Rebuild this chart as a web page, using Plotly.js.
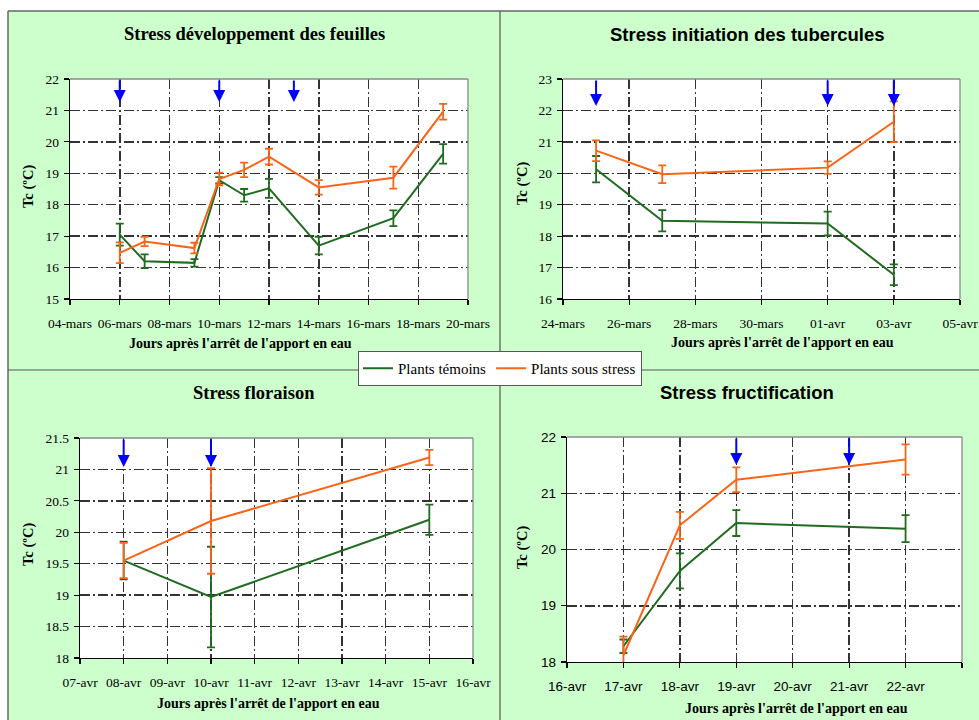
<!DOCTYPE html>
<html>
<head>
<meta charset="utf-8">
<script src="https://cdn.plot.ly/plotly-3.0.1.min.js"></script>
<style>html,body{margin:0;padding:0;background:#fff;}#chart{width:979px;height:720px;}</style>
</head>
<body>
<div id="chart"></div>
<script>
// ---------- DATA ----------
const seriesNames = ['Plants témoins', 'Plants sous stress'];

// Panel 1 : Stress développement des feuilles
const p1Dates = ['2008-03-06','2008-03-07','2008-03-09','2008-03-10','2008-03-11','2008-03-12','2008-03-14','2008-03-17','2008-03-19'];
const p1Temoin = [17.05, 16.2, 16.15, 18.78, 18.3, 18.52, 16.7, 17.57, 19.62];
const p1TemoinErr = [0.35, 0.22, 0.12, 0.1, 0.2, 0.3, 0.28, 0.25, 0.31];
const p1Stress = [16.47, 16.83, 16.62, 18.82, 19.11, 19.53, 18.55, 18.86, 20.96];
const p1StressErr = [0.33, 0.15, 0.17, 0.2, 0.23, 0.25, 0.23, 0.35, 0.25];
const p1Arrows = ['2008-03-06','2008-03-10','2008-03-13'];
const p1TickVals = ['2008-03-04','2008-03-06','2008-03-08','2008-03-10','2008-03-12','2008-03-14','2008-03-16','2008-03-18','2008-03-20'];
const p1TickText = ['04-mars','06-mars','08-mars','10-mars','12-mars','14-mars','16-mars','18-mars','20-mars'];

// Panel 2 : Stress initiation des tubercules
const p2Dates = ['2008-03-25','2008-03-27','2008-04-01','2008-04-03'];
const p2Temoin = [20.13, 18.49, 18.4, 16.77];
const p2TemoinErr = [0.42, 0.34, 0.38, 0.33];
const p2Stress = [20.72, 19.97, 20.18, 21.64];
const p2StressErr = [0.33, 0.28, 0.2, 0.65];
const p2Arrows = ['2008-03-25','2008-04-01','2008-04-03'];
const p2TickVals = ['2008-03-24','2008-03-26','2008-03-28','2008-03-30','2008-04-01','2008-04-03','2008-04-05'];
const p2TickText = ['24-mars','26-mars','28-mars','30-mars','01-avr','03-avr','05-avr'];

// Panel 3 : Stress floraison
const p3Dates = ['2008-04-08','2008-04-10','2008-04-15'];
const p3Temoin = [19.55, 18.97, 20.2];
const p3TemoinErr = [0.3, 0.8, 0.24];
const p3Stress = [19.55, 20.18, 21.19];
const p3StressErr = [0.28, 0.84, 0.12];
const p3Arrows = ['2008-04-08','2008-04-10'];
const p3TickVals = ['2008-04-07','2008-04-08','2008-04-09','2008-04-10','2008-04-11','2008-04-12','2008-04-13','2008-04-14','2008-04-15','2008-04-16'];
const p3TickText = ['07-avr','08-avr','09-avr','10-avr','11-avr','12-avr','13-avr','14-avr','15-avr','16-avr'];

// Panel 4 : Stress fructification
const p4Dates = ['2008-04-17','2008-04-18','2008-04-19','2008-04-22'];
const p4Temoin = [18.28, 19.62, 20.47, 20.37];
const p4TemoinErr = [0.12, 0.31, 0.23, 0.24];
const p4Stress = [18.12, 20.43, 21.24, 21.6];
const p4StressErr = [0.33, 0.24, 0.22, 0.27];
const p4Arrows = ['2008-04-19','2008-04-21'];
const p4TickVals = ['2008-04-16','2008-04-17','2008-04-18','2008-04-19','2008-04-20','2008-04-21','2008-04-22','2008-04-23'];
const p4TickText = ['16-avr','17-avr','18-avr','19-avr','20-avr','21-avr','22-avr','23-avr'];

const panelTitles = ['Stress développement des feuilles','Stress initiation des tubercules','Stress floraison','Stress fructification'];
const xTitle = "Jours après l'arrêt de l'apport en eau";
const yTitle = 'Tc (ºC)';

// ---------- STYLE / LAYOUT ----------
const W = 979, H = 720;
const SERIF = 'Liberation Serif, Times New Roman, serif';
const SANS = 'Liberation Sans, Arial, sans-serif';
const GREEN = '#1f6b1f', ORANGE = '#fa6419', BLUE = '#0000ff';
const px = x => x / W, py = y => 1 - y / H;

const panels = [
  {dates:p1Dates, t:p1Temoin, te:p1TemoinErr, s:p1Stress, se:p1StressErr, arrows:p1Arrows,
   tv:p1TickVals, tt:p1TickText, xr:['2008-03-04','2008-03-20'], yr:[15,22], dy:1,
   box:[70,79,468,299], titleFont:SERIF, tickFont:SERIF, title:[255,34], xt:[240,343], yt:[29,187], arrowLen:23},
  {dates:p2Dates, t:p2Temoin, te:p2TemoinErr, s:p2Stress, se:p2StressErr, arrows:p2Arrows,
   tv:p2TickVals, tt:p2TickText, xr:['2008-03-24','2008-04-05'], yr:[16,23], dy:1,
   box:[563,79,960,299], titleFont:SANS, tickFont:SERIF, title:[747,34], xt:[782,342], yt:[522,184], arrowLen:27},
  {dates:p3Dates, t:p3Temoin, te:p3TemoinErr, s:p3Stress, se:p3StressErr, arrows:p3Arrows,
   tv:p3TickVals, tt:p3TickText, xr:['2008-04-07','2008-04-16'], yr:[18,21.5], dy:0.5,
   box:[80,438,473,658], titleFont:SERIF, tickFont:SERIF, title:[254,393], xt:[268,703], yt:[28,545], arrowLen:29},
  {dates:p4Dates, t:p4Temoin, te:p4TemoinErr, s:p4Stress, se:p4StressErr, arrows:p4Arrows,
   tv:p4TickVals, tt:p4TickText, xr:['2008-04-16','2008-04-23'], yr:[18,22], dy:1,
   box:[567,437,962,662], titleFont:SANS, tickFont:SANS, title:[747,393], xt:[796,708], yt:[522,548], arrowLen:28}
];

const traces = [];
const layout = {
  width: W, height: H,
  margin: {l:0, r:0, t:0, b:0, pad:0},
  paper_bgcolor: '#ccffcc',
  plot_bgcolor: '#ffffff',
  showlegend: true,
  legend: {
    orientation: 'h', x: px(500), y: py(368.5), xanchor: 'center', yanchor: 'middle',
    bgcolor: '#ffffff', bordercolor: '#555555', borderwidth: 1,
    font: {family: SERIF, size: 15, color: '#000'},
    itemwidth: 30, tracegroupgap: 0
  },
  shapes: [
    {type:'rect', xref:'paper', yref:'paper', x0:-0.01, x1:1.01, y0:py(11), y1:1.01, fillcolor:'#ffffff', line:{width:0}, layer:'below'},
    {type:'rect', xref:'paper', yref:'paper', x0:-0.01, x1:px(8), y0:-0.01, y1:1.01, fillcolor:'#ffffff', line:{width:0}, layer:'below'},
    {type:'line', xref:'paper', yref:'paper', x0:px(8), x1:1.01, y0:py(11), y1:py(11), line:{color:'#666666', width:1.5}},
    {type:'line', xref:'paper', yref:'paper', x0:px(8), x1:px(8), y0:py(11), y1:-0.01, line:{color:'#666666', width:1.5}},
    {type:'line', xref:'paper', yref:'paper', x0:px(500), x1:px(500), y0:py(11), y1:-0.01, line:{color:'#555555', width:1.2}},
    {type:'line', xref:'paper', yref:'paper', x0:px(8), x1:1.01, y0:py(370), y1:py(370), line:{color:'#555555', width:1.2}}
  ],
  annotations: []
};

panels.forEach((p, i) => {
  const n = i + 1;
  const xa = n === 1 ? 'x' : 'x' + n, ya = n === 1 ? 'y' : 'y' + n;
  const xkey = n === 1 ? 'xaxis' : 'xaxis' + n, ykey = n === 1 ? 'yaxis' : 'yaxis' + n;
  const [bx0, by0, bx1, by1] = p.box;
  const common = {
    showgrid: true, gridcolor: '#333333', gridwidth: 1.5, griddash: '10px,3px,2px,3px',
    showline: true, linecolor: '#000000', linewidth: 1.3,
    ticks: 'outside', ticklen: 5, tickcolor: '#000000', tickwidth: 1.2,
    zeroline: false, fixedrange: true,
    tickfont: {family: p.tickFont, size: 13.5, color: '#000'}
  };
  layout[xkey] = Object.assign({}, common, {
    type: 'date', anchor: ya, domain: [px(bx0), px(bx1)], range: p.xr,
    tickmode: 'array', tickvals: p.tv, ticktext: p.tt, ticklabelstandoff: 6
  });
  layout[ykey] = Object.assign({}, common, {
    anchor: xa, domain: [py(by1), py(by0)], range: p.yr, dtick: p.dy, tick0: 0,
    ticklabelstandoff: 2
  });
  // plot-area border (top & right)
  layout.shapes.push(
    {type:'line', xref:xa + ' domain', yref:ya + ' domain', x0:0, x1:1, y0:1, y1:1, line:{color:'#8a8a8a', width:1.3}},
    {type:'line', xref:xa + ' domain', yref:ya + ' domain', x0:1, x1:1, y0:0, y1:1, line:{color:'#8a8a8a', width:1.3}}
  );
  const mk = (y, err, color, name, show) => ({
    type: 'scatter', mode: 'lines', x: p.dates, y: y, xaxis: xa, yaxis: ya,
    name: name, legendgroup: name, showlegend: show,
    line: {color: color, width: 2},
    error_y: {type: 'data', array: err, visible: true, color: color, thickness: 1.8, width: 4}
  });
  traces.push(mk(p.t, p.te, GREEN, seriesNames[0], i === 0));
  traces.push(mk(p.s, p.se, ORANGE, seriesNames[1], i === 0));

  // arrows
  const plotH = by1 - by0;
  p.arrows.forEach(d => {
    layout.annotations.push({
      x: d, xref: xa, y: 1 - p.arrowLen / plotH, yref: ya + ' domain',
      ax: 0, ay: -p.arrowLen, axref: 'pixel', ayref: 'pixel',
      text: '', showarrow: true, arrowhead: 2, arrowsize: 1.2, arrowwidth: 2,
      arrowcolor: BLUE, standoff: 0, startstandoff: 0
    });
  });
  // titles
  layout.annotations.push(
    {text: '<b>' + panelTitles[i] + '</b>', xref:'paper', yref:'paper', x:px(p.title[0]), y:py(p.title[1]),
     xanchor:'center', yanchor:'middle', showarrow:false, font:{family:p.titleFont, size:18.5, color:'#000'}},
    {text: '<b>' + xTitle + '</b>', xref:'paper', yref:'paper', x:px(p.xt[0]), y:py(p.xt[1]),
     xanchor:'center', yanchor:'middle', showarrow:false, font:{family:SERIF, size:14, color:'#000'}},
    {text: '<b>' + yTitle + '</b>', xref:'paper', yref:'paper', x:px(p.yt[0]), y:py(p.yt[1]),
     xanchor:'center', yanchor:'middle', showarrow:false, textangle:-90, font:{family:SERIF, size:14.5, color:'#000'}}
  );
});

Plotly.newPlot('chart', traces, layout, {displayModeBar: false, staticPlot: true});
</script>
</body>
</html>
